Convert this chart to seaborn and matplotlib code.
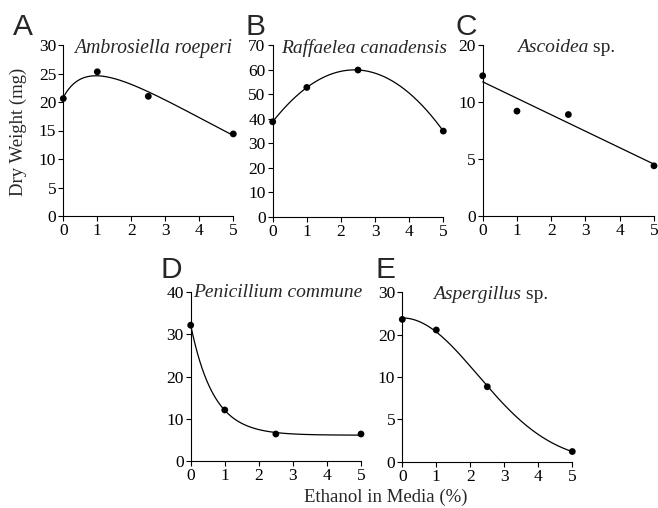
import numpy as np
import pandas as pd
import matplotlib
matplotlib.use('Agg')
import matplotlib.pyplot as plt
import seaborn as sns

sns.set_style('ticks')
plt.rcParams['font.family'] = ['Liberation Serif', 'DejaVu Serif']

# ethanol concentration (%) and dry weight (mg)
ethanol = [0, 1, 2.5, 5]
ambrosiella = [20.6, 25.3, 21.0, 14.4]
raffaelea = [38.7, 52.7, 59.8, 34.9]
ascoidea = [14.6, 9.2, 8.9, 4.4]
penicillium = [32.2, 12.1, 6.4, 6.4]
aspergillus = [23.6, 21.1, 8.85, 1.2]

x_ticks = [0, 1, 2, 3, 4, 5]
ticks_a = [0, 5, 10, 15, 20, 25, 30]
ticks_b = [0, 10, 20, 30, 40, 50, 60, 70]
ticks_c = [0, 5, 10, 20]
ticks_d = [0, 10, 20, 30, 40]
ticks_e = [0, 5, 10, 20, 30]

W, H = 658, 508


def px_box(left, top, right, bottom):
    return [left / W, 1 - bottom / H, (right - left) / W, (bottom - top) / H]


def stepped(ticks):
    # equal spacing between the listed ticks (as on the original axes)
    idx = np.arange(len(ticks), dtype=float)
    t = np.array(ticks, dtype=float)
    return (lambda v: np.interp(v, t, idx)), (lambda s: np.interp(s, idx, t))


def fit_poly(x, y, deg):
    return np.poly1d(np.polyfit(x, y, deg))


def fit_logpoly(x, y):
    # quadratic in log(1 + x)
    p = np.poly1d(np.polyfit(np.log1p(x), y, 2))
    return lambda v: p(np.log1p(v))


def fit_exp(x, y):
    x = np.asarray(x, float)
    y = np.asarray(y, float)
    best = None
    for k in np.linspace(0.05, 6, 1200):
        A = np.column_stack([np.exp(-k * x), np.ones_like(x)])
        coef, *_ = np.linalg.lstsq(A, y, rcond=None)
        err = np.sum((A @ coef - y) ** 2)
        if best is None or err < best[0]:
            best = (err, k, coef)
    _, k, (a, c) = best
    return lambda v: a * np.exp(-k * v) + c


def fit_gauss(x, y):
    x = np.asarray(x, float)
    y = np.asarray(y, float)
    best = None
    for w in np.linspace(1, 60, 1200):
        A = np.column_stack([np.exp(-x ** 2 / w), np.ones_like(x)])
        coef, *_ = np.linalg.lstsq(A, y, rcond=None)
        err = np.sum((A @ coef - y) ** 2)
        if best is None or err < best[0]:
            best = (err, w, coef)
    _, w, (a, c) = best
    return lambda v: a * np.exp(-v ** 2 / w) + c


xs = np.linspace(0, 5, 300)

fwd_c, inv_c = stepped(ticks_c)
fwd_e, inv_e = stepped(ticks_e)

curve_a = fit_logpoly(ethanol, ambrosiella)(xs)
curve_b = fit_poly(ethanol, raffaelea, 2)(xs)
curve_c = inv_c(fit_poly(ethanol, fwd_c(np.array(ascoidea)), 1)(xs))
curve_d = fit_exp(ethanol, penicillium)(xs)
curve_e = inv_e(fit_gauss(ethanol, fwd_e(np.array(aspergillus)))(xs))

panels = [
    dict(letter='A', box=(63.3, 45, 233.3, 216), y=ambrosiella, curve=curve_a,
         ticks=ticks_a, scale=None, genus='Ambrosiella roeperi', sp=False,
         title_xy=(74, 52.7), title_size=14.2, letter_xy=(13, 35)),
    dict(letter='B', box=(272.7, 45, 443.3, 216.7), y=raffaelea, curve=curve_b,
         ticks=ticks_b, scale=None, genus='Raffaelea canadensis', sp=False,
         title_xy=(280.7, 53.3), title_size=14, letter_xy=(245, 35)),
    dict(letter='C', box=(482.7, 45, 654, 216), y=ascoidea, curve=curve_c,
         ticks=ticks_c, scale=(fwd_c, inv_c), genus='Ascoidea', sp=True,
         title_xy=(517, 51.7), title_size=14, letter_xy=(455, 35)),
    dict(letter='D', box=(190.7, 292.3, 361, 461), y=penicillium, curve=curve_d,
         ticks=ticks_d, scale=None, genus='Penicillium commune', sp=False,
         title_xy=(193.3, 297.3), title_size=14, letter_xy=(160.7, 278.3)),
    dict(letter='E', box=(402.3, 292.3, 572.3, 461.7), y=aspergillus, curve=curve_e,
         ticks=ticks_e, scale=(fwd_e, inv_e), genus='Aspergillus', sp=True,
         title_xy=(433.3, 298.3), title_size=14, letter_xy=(375, 278.3)),
]

fig = plt.figure(figsize=(W / 100, H / 100), dpi=100)

for p in panels:
    ax = fig.add_axes(px_box(*p['box']))
    if p['scale'] is not None:
        ax.set_yscale('function', functions=p['scale'])
    df = pd.DataFrame({'ethanol': ethanol, 'weight': p['y']})
    fit_df = pd.DataFrame({'ethanol': xs, 'weight': p['curve']})
    sns.lineplot(data=fit_df, x='ethanol', y='weight', ax=ax, color='black',
                 linewidth=0.9, clip_on=False)
    sns.scatterplot(data=df, x='ethanol', y='weight', ax=ax, color='black',
                    s=24, edgecolor='none', clip_on=False, zorder=3)
    ax.set_xlim(0, 5)
    ax.set_ylim(0, p['ticks'][-1])
    ax.set_xticks(x_ticks)
    ax.set_xticklabels([str(t) for t in x_ticks])
    ax.set_yticks(p['ticks'])
    ax.set_yticklabels([str(t) for t in p['ticks']])
    ax.minorticks_off()
    ax.set_xlabel('')
    ax.set_ylabel('')
    sns.despine(ax=ax)
    for side in ['left', 'bottom']:
        ax.spines[side].set_linewidth(0.8)
        ax.spines[side].set_color('black')
    ax.tick_params(axis='both', direction='out', length=3.6, width=0.8,
                   labelsize=12.5, colors='black', pad=1.5)

    tx, ty = p['title_xy']
    if p['sp']:
        # italic genus followed by upright "sp."
        t1 = fig.text(tx / W, 1 - ty / H, p['genus'], fontsize=p['title_size'],
                      style='italic', ha='left', va='baseline')
        fig.add_artist(plt.Annotation(' sp.', xy=(1, 0), xycoords=t1,
                                      xytext=(0, 0), textcoords='offset points',
                                      va='bottom', ha='left',
                                      fontsize=p['title_size']))
        t1.set_va('bottom')
        t1.set_position((tx / W, 1 - (ty + 4.3) / H))
    else:
        fig.text(tx / W, 1 - ty / H, p['genus'], fontsize=p['title_size'],
                 style='italic', ha='left', va='baseline')
    lx, ly = p['letter_xy']
    fig.text(lx / W, 1 - ly / H, p['letter'], fontsize=21.5, ha='left',
             va='baseline', family='Liberation Sans')

fig.text(18 / W, 1 - 131.7 / H, 'Dry Weight (mg)', rotation=90, fontsize=13.5,
         ha='center', va='center')
fig.text(385.8 / W, 1 - 502 / H, 'Ethanol in Media (%)', fontsize=13.5,
         ha='center', va='baseline')

fig.savefig('out.png', dpi=100)
